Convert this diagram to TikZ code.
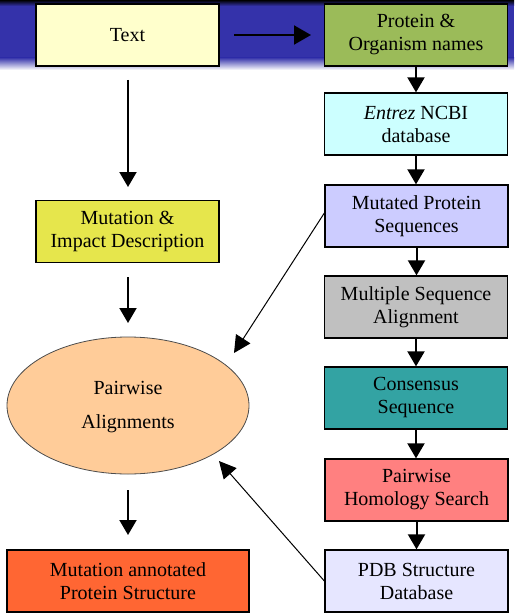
\documentclass[tikz,border=0pt]{standalone}
\usepackage{fontspec}
\setmainfont{Liberation Serif}
\newfontfamily\serifrm{Liberation Serif}
\usetikzlibrary{arrows.meta,shapes.geometric}
\definecolor{bannerblue}{RGB}{52,50,170}
\definecolor{ctext}{RGB}{255,255,204}
\definecolor{cprot}{RGB}{155,187,89}
\definecolor{centrez}{RGB}{204,255,255}
\definecolor{cmut}{RGB}{204,204,255}
\definecolor{cmsa}{RGB}{192,192,192}
\definecolor{ccons}{RGB}{51,163,163}
\definecolor{cpair}{RGB}{255,128,128}
\definecolor{cpdb}{RGB}{230,230,255}
\definecolor{cimpact}{RGB}{230,230,76}
\definecolor{cannot}{RGB}{255,102,51}
\definecolor{cell}{RGB}{255,204,153}
\tikzset{
  box/.style={draw=black, line width=1.3pt, minimum width=183pt, minimum height=62pt,
    inner sep=0pt, align=center, font=\serifrm\fontsize{20}{23}\selectfont},
  bigarrow/.style={line width=2pt, -{Triangle[width=17pt,length=15pt]}},
  widearrow/.style={line width=2pt, -{Triangle[width=19pt,length=17pt]}},
  thinarrow/.style={line width=1pt, -{Triangle[width=17pt,length=17pt]}},
}
\begin{document}
\begin{tikzpicture}[x=1pt,y=-1pt]
\useasboundingbox (0,0) rectangle (514,615);
% banner
\fill[bannerblue] (0,5) rectangle (514,58);
\shade[top color=black, bottom color=bannerblue] (0,0) rectangle (514,6);
\shade[top color=bannerblue, bottom color=white] (0,57.5) rectangle (514,70);

\node[box, fill=ctext] (text) at (127.5,35) {Text};
\node[box, fill=cprot] (prot) at (416,35) {Protein \&\\Organism names};
\node[box, fill=centrez] (entrez) at (416,124) {\textit{Entrez} NCBI\\database};
\node[box, fill=cmut] (mut) at (416.5,216) {Mutated Protein\\Sequences};
\node[box, fill=cmsa] (msa) at (416,307) {Multiple Sequence\\Alignment};
\node[box, fill=ccons] (cons) at (416,398) {Consensus\\Sequence};
\node[box, fill=cpair] (pair) at (416.5,490) {Pairwise\\Homology Search};
\node[box, fill=cpdb] (pdb) at (416.5,581) {PDB Structure\\Database};
\node[box, fill=cimpact] (impact) at (127.5,231.5) {Mutation \&\\Impact Description};
\node[box, fill=cannot, minimum width=242pt] (annot) at (128,581) {Mutation annotated\\Protein Structure};
\node[ellipse, draw=black!70, line width=0.8pt, fill=cell, minimum width=242pt, minimum height=137pt,
  inner sep=0pt] (ell) at (128,405.5) {};
\node[font=\serifrm\fontsize{20}{34}\selectfont, align=center, inner sep=0pt] (elltext) at (128,407) {Pairwise\\Alignments};

\coordinate (a1) at (234,35);
\coordinate (a2) at (311,35);
\draw[widearrow] (a1) -- (a2);
\draw[bigarrow] (prot.south) -- (entrez.north);
\draw[bigarrow] (entrez.south) -- (entrez.south |- mut.north);
\draw[bigarrow] (mut.south) -- (mut.south |- msa.north);
\draw[bigarrow] (msa.south) -- (cons.north);
\draw[bigarrow] (cons.south) -- (cons.south |- pair.north);
\draw[bigarrow] (pair.south) -- (pdb.north);

\coordinate (b1) at (128,80);
\coordinate (b2) at (128,187);
\draw[bigarrow] (b1) -- (b2);
\coordinate (c1) at (128,277);
\coordinate (c2) at (128,323);
\draw[bigarrow] (c1) -- (c2);
\coordinate (d1) at (128,490);
\coordinate (d2) at (128,535);
\draw[bigarrow] (d1) -- (d2);

\coordinate (e1) at ([yshift=3pt]mut.west);
\coordinate (e2) at (234,353);
\draw[thinarrow] (e1) -- (e2);
\coordinate (f2) at (219,461);
\draw[thinarrow] (pdb.west) -- (f2);
\end{tikzpicture}
\end{document}
